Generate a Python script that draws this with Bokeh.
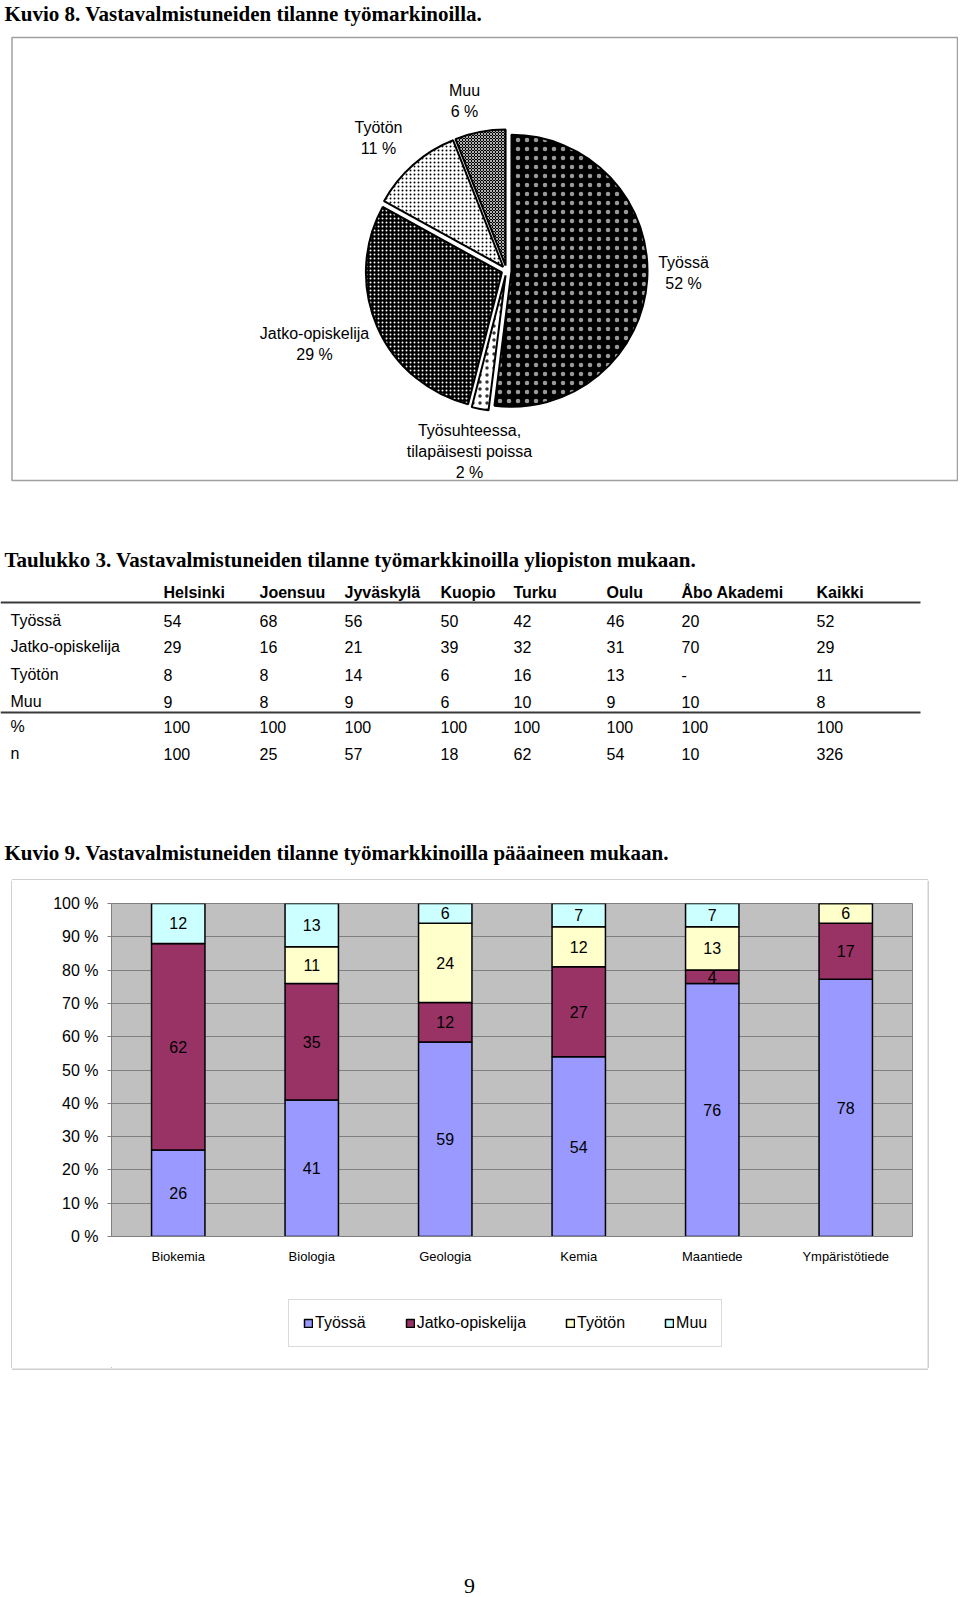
import math
from bokeh.plotting import figure
from bokeh.models import (Range1d, FactorRange, ColumnDataSource, SingleIntervalTicker,
                          PrintfTickFormatter, Legend, LegendItem)
from bokeh.layouts import column, row
from bokeh.core.properties import value
from bokeh.embed import file_html
from bokeh.resources import INLINE

# ---------------- data ----------------
# Kuvio 8 (pie), clockwise from 12 o'clock
pie_names = ["Työssä", "Työsuhteessa,\ntilapäisesti poissa", "Jatko-opiskelija", "Työtön", "Muu"]
pie_pct = [52, 2, 29, 11, 6]

# Taulukko 3
uni_cols = ["Helsinki", "Joensuu", "Jyväskylä", "Kuopio", "Turku", "Oulu", "Åbo Akademi", "Kaikki"]
row_labels = ["Työssä", "Jatko-opiskelija", "Työtön", "Muu", "%", "n"]
uni_tyossa = [54, 68, 56, 50, 42, 46, 20, 52]
uni_jatko = [29, 16, 21, 39, 32, 31, 70, 29]
uni_tyoton = [8, 8, 14, 6, 16, 13, "-", 11]
uni_muu = [9, 8, 9, 6, 10, 9, 10, 8]
uni_pct = [100, 100, 100, 100, 100, 100, 100, 100]
uni_n = [100, 25, 57, 18, 62, 54, 10, 326]

# Kuvio 9 (100 % stacked bars)
subjects = ["Biokemia", "Biologia", "Geologia", "Kemia", "Maantiede", "Ympäristötiede"]
series_names = ["Työssä", "Jatko-opiskelija", "Työtön", "Muu"]
bar_tyossa = [26, 41, 59, 54, 76, 78]
bar_jatko = [62, 35, 12, 27, 4, 17]
bar_tyoton = [0, 11, 24, 12, 13, 6]
bar_muu = [12, 13, 6, 7, 7, 0]

# ---------------- styles ----------------
SANS_NAME = "Liberation Sans"
SERIF_NAME = "Liberation Serif"
SANS = value(SANS_NAME)
SERIF = value(SERIF_NAME)
bar_colors = ["#9999FF", "#993366", "#FFFFCC", "#CCFFFF"]
BOX_COLOR = "#a0a0a0"

W = 958
TOP_H = 880    # page y 0 .. 880
MID_H = 488    # page y 880 .. 1368
BAR_H = 400    # page y 880 .. 1280
LEG_H = MID_H - BAR_H
BOT_H = 228    # page y 1368 .. 1596
BAR_W = 915


def PX(x):
    return x


def PY(y):
    return TOP_H - y


def blank_fig(w, h):
    f = figure(width=w, height=h, x_range=Range1d(0, w), y_range=Range1d(0, h),
               x_axis_type=None, y_axis_type=None, min_border=0,
               toolbar_location=None, output_backend="svg")
    f.outline_line_color = None
    f.grid.visible = False
    f.background_fill_color = "white"
    f.border_fill_color = "white"
    return f


top = blank_fig(W, TOP_H)

# Titles
title_font = dict(text_font=SERIF, text_font_style="bold", text_font_size="21px",
                  text_color="black", text_baseline="middle", text_align="left")
top.text(x=[PX(4)], y=[PY(13)], text=["Kuvio 8. Vastavalmistuneiden tilanne työmarkinoilla."], **title_font)
top.text(x=[PX(4)], y=[PY(559)], text=["Taulukko 3. Vastavalmistuneiden tilanne työmarkkinoilla yliopiston mukaan."], **title_font)
top.text(x=[PX(4)], y=[PY(852)], text=["Kuvio 9. Vastavalmistuneiden tilanne työmarkkinoilla pääaineen mukaan."], **title_font)

# Pie box
top.quad(left=[PX(11.5)], right=[PX(957)], top=[PY(37)], bottom=[PY(480)],
         fill_color=None, line_color=BOX_COLOR, line_width=1.5)
# top edge of the bar chart box
top.segment(x0=[PX(11.5)], y0=[0.5], x1=[PX(927.5)], y1=[0.5], line_color=BOX_COLOR, line_width=1)

# Pie
cx, cy, r, explode = PX(506), PY(270), 136, 5
pie_styles = [
    dict(fill_color="black", hatch_color="white", hatch_pattern="dot", hatch_scale=9, hatch_weight=0.5, hatch_alpha=0.6),
    dict(fill_color="white", hatch_color="black", hatch_pattern="dot", hatch_scale=7, hatch_weight=0.6, hatch_alpha=0.8),
    dict(fill_color="black", hatch_color="white", hatch_pattern="dot", hatch_scale=4, hatch_weight=1),
    dict(fill_color="white", hatch_color="black", hatch_pattern="dot", hatch_scale=4, hatch_weight=1),
    dict(fill_color="black", hatch_color="white", hatch_pattern="diagonal_cross", hatch_scale=3, hatch_weight=0.7),
]
cum = 0.0
for pct, st in zip(pie_pct, pie_styles):
    t1 = cum / 100 * 2 * math.pi
    t2 = (cum + pct) / 100 * 2 * math.pi
    tm = (t1 + t2) / 2
    wx = cx + explode * math.sin(tm)
    wy = cy + explode * math.cos(tm)
    top.wedge(x=[wx], y=[wy], radius=r, start_angle=math.pi / 2 - t1, end_angle=math.pi / 2 - t2,
              direction="clock", line_color="black", line_width=2, **st)
    cum += pct

# Pie labels (anchor = centre of first line, page coords)
pie_label_pos = [(683, 262), (469, 430), (314, 333), (378, 127), (464, 90)]
lx, ly, lt = [], [], []
for name, pct, (ax, ay) in zip(pie_names, pie_pct, pie_label_pos):
    lines = name.split("\n") + [f"{pct} %"]
    for k, ln in enumerate(lines):
        lx.append(PX(ax))
        ly.append(PY(ay + 21 * k))
        lt.append(ln)
top.text(x=lx, y=ly, text=lt, text_font=SANS, text_font_size="16px", text_color="black",
         text_align="center", text_baseline="middle")

# Table
col_x = [163, 259, 344, 440, 513, 606, 681, 816]
row_y = [620, 646, 674, 701, 726, 753]
top.text(x=[PX(c) for c in col_x], y=[PY(592)] * len(uni_cols), text=uni_cols,
         text_font=SANS, text_font_style="bold", text_font_size="16px", text_color="black",
         text_align="left", text_baseline="middle")
table_rows = [uni_tyossa, uni_jatko, uni_tyoton, uni_muu, uni_pct, uni_n]
tx, ty, tt = [], [], []
for lab, vals, yy in zip(row_labels, table_rows, row_y):
    tx.append(PX(10)); ty.append(PY(yy)); tt.append(lab)
    for c, v in zip(col_x, vals):
        tx.append(PX(c)); ty.append(PY(yy)); tt.append(str(v))
top.text(x=tx, y=ty, text=tt, text_font=SANS, text_font_size="16px", text_color="black",
         text_align="left", text_baseline="middle")
top.segment(x0=[PX(0), PX(0)], y0=[PY(602), PY(712)], x1=[PX(920), PX(920)], y1=[PY(602), PY(712)],
            line_color="#3a3a3a", line_width=2)

# ---------------- bar chart ----------------
series_vals = [bar_tyossa, bar_jatko, bar_tyoton, bar_muu]
totals = [sum(v[i] for v in series_vals) for i in range(len(subjects))]
keys = ["s0", "s1", "s2", "s3"]
data = {"subject": subjects}
for k, vals in zip(keys, series_vals):
    data[k] = [v / t * 100 for v, t in zip(vals, totals)]
src = ColumnDataSource(data)

pb = figure(width=BAR_W, height=BAR_H, x_range=FactorRange(*subjects), y_range=Range1d(0, 100),
            min_border_left=99, min_border_right=15, min_border_top=23, min_border_bottom=44,
            toolbar_location=None, output_backend="svg",
            background_fill_color="#C0C0C0", border_fill_color="white")
pb.outline_line_color = "#808080"
pb.outline_line_width = 1

rends = pb.vbar_stack(keys, x="subject", width=0.4, fill_color=bar_colors, line_color="black",
                      line_width=1.5, source=src)

lab_x, lab_y, lab_t = [], [], []
for i, s in enumerate(subjects):
    base = 0.0
    for vals in series_vals:
        h = vals[i] / totals[i] * 100
        if vals[i] > 0:
            lab_x.append(s); lab_y.append(base + h / 2); lab_t.append(str(vals[i]))
        base += h
pb.text(x=lab_x, y=lab_y, text=lab_t, text_font=SANS, text_font_size="16px", text_color="black",
        text_align="center", text_baseline="middle")

pb.xgrid.visible = False
pb.ygrid.grid_line_color = "#808080"
pb.ygrid.grid_line_width = 1
pb.yaxis.ticker = SingleIntervalTicker(interval=10, num_minor_ticks=0)
pb.ygrid.ticker = SingleIntervalTicker(interval=10, num_minor_ticks=0)
pb.yaxis.formatter = PrintfTickFormatter(format="%d %%")
pb.yaxis.axis_line_color = "#808080"
pb.yaxis.major_tick_line_color = "#808080"
pb.yaxis.major_tick_out = 4
pb.yaxis.major_tick_in = 0
pb.yaxis.minor_tick_line_color = None
pb.yaxis.major_label_standoff = 9
pb.yaxis.major_label_text_font = SANS_NAME
pb.yaxis.major_label_text_font_size = "16px"
pb.yaxis.major_label_text_color = "black"

pb.xaxis.axis_line_color = "#808080"
pb.xaxis.major_tick_line_color = None
pb.xaxis.major_tick_out = 0
pb.xaxis.major_tick_in = 0
pb.xaxis.major_label_standoff = 12
pb.xaxis.major_label_text_font = SANS_NAME
pb.xaxis.major_label_text_font_size = "13px"
pb.xaxis.major_label_text_color = "black"

# ---------------- legend strip ----------------
# (its frame is aligned with the bar chart's frame by the column layout)
legend_fig = blank_fig(BAR_W, LEG_H)
legend_fig.background_fill_color = None
legend_fig.border_fill_color = None
# one-row proxy source placed outside the visible range: only feeds the legend swatches
proxy = ColumnDataSource(dict(x=[-1000], top=[0]))
swatches = [legend_fig.vbar(x="x", top="top", width=1, fill_color=c, line_color="black",
                            line_width=1.5, source=proxy) for c in bar_colors]
leg = Legend(items=[LegendItem(label=n, renderers=[s]) for n, s in zip(series_names, swatches)],
             location=(177, 21), orientation="horizontal")
leg.border_line_color = "#b8b8b8"
leg.border_line_width = 1
leg.background_fill_color = "white"
leg.background_fill_alpha = 1
leg.label_text_font = SANS_NAME
leg.label_text_font_size = "16px"
leg.label_text_color = "black"
leg.label_height = 15
leg.glyph_width = 10
leg.glyph_height = 10
leg.label_standoff = 2
leg.spacing = 39
leg.padding = 14
leg.margin = 0
legend_fig.add_layout(leg)

# side strips carrying the left / right edges of the bar chart box
left_strip = blank_fig(12, MID_H)
left_strip.segment(x0=[11.5], y0=[0], x1=[11.5], y1=[MID_H], line_color=BOX_COLOR, line_width=1)
right_strip = blank_fig(W - 12 - BAR_W, MID_H)
right_strip.segment(x0=[0.5], y0=[0], x1=[0.5], y1=[MID_H], line_color=BOX_COLOR, line_width=1)

# ---------------- bottom (box bottom edge + page number) ----------------
bot = blank_fig(W, BOT_H)
bot.segment(x0=[11.5], y0=[BOT_H - 0.5], x1=[927.5], y1=[BOT_H - 0.5], line_color=BOX_COLOR, line_width=1)
bot.text(x=[469], y=[4], text=["9"], text_font=SERIF, text_font_size="22px", text_color="black",
         text_align="center", text_baseline="bottom")

layout = column(top, row(left_strip, column(pb, legend_fig), right_strip), bot)
open("out.html", "w").write(file_html(layout, INLINE))
